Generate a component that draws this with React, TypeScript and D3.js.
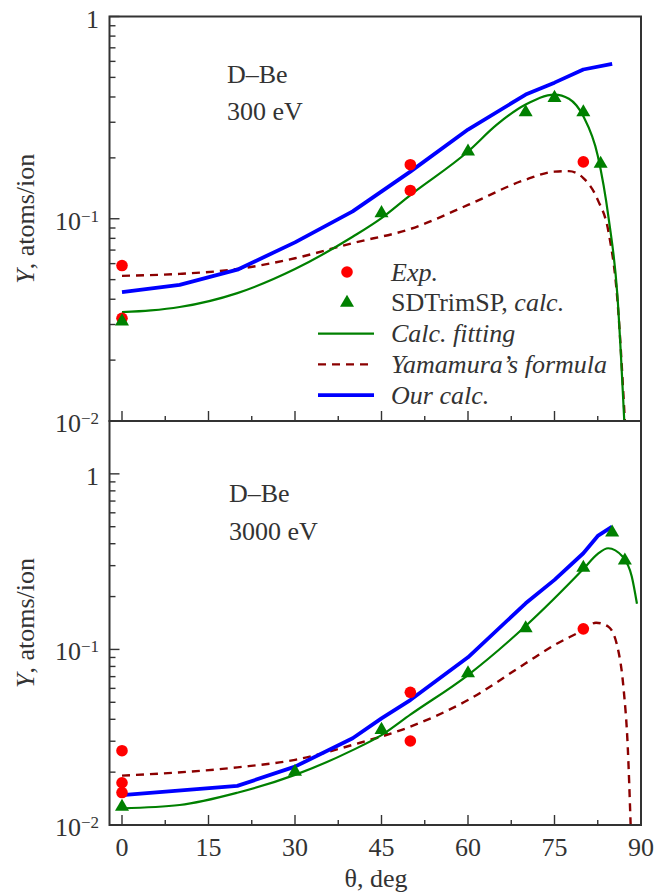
import React, { useEffect, useRef } from "react";
import * as d3 from "d3";

// ---- 300 eV (upper panel) ----
const expAngle300 = [0, 0, 50, 50, 80];
const expYield300 = [0.0587, 0.0322, 0.185, 0.138, 0.191];
const sdAngle300 = [0, 45, 60, 70, 75, 80, 83];
const sdYield300 = [0.0311, 0.1066, 0.215, 0.336, 0.396, 0.336, 0.187];
const fitAngle300 = [0, 5, 10, 20, 30, 40, 45, 50, 60, 65, 70, 75, 77.5, 80, 82.5, 84.4, 85.9, 87.1];
const fitYield300 = [0.0345, 0.0352, 0.0366, 0.0429, 0.0564, 0.0815, 0.1008, 0.131, 0.215, 0.292, 0.367, 0.411, 0.392, 0.321, 0.205, 0.1, 0.042, 0.01];
const yamAngle300 = [0, 10, 20, 30, 40, 50, 60, 70, 75, 77.5, 80, 82.5, 84.4, 85.9, 87.2];
const yamYield300 = [0.0522, 0.0534, 0.0564, 0.0638, 0.0758, 0.089, 0.117, 0.156, 0.171, 0.172, 0.159, 0.124, 0.085, 0.04, 0.01];
const ourAngle300 = [0, 10, 20, 30, 40, 50, 60, 70, 75, 80, 85];
const ourYield300 = [0.0434, 0.0471, 0.056, 0.0764, 0.1087, 0.171, 0.276, 0.411, 0.471, 0.547, 0.583];

// ---- 3000 eV (lower panel) ----
const expAngle3000 = [0, 0, 0, 50, 50, 80];
const expYield3000 = [0.0265, 0.0174, 0.0153, 0.057, 0.0301, 0.131];
const sdAngle3000 = [0, 30, 45, 60, 70, 80, 85, 87.2];
const sdYield3000 = [0.0127, 0.0201, 0.0348, 0.0731, 0.132, 0.292, 0.463, 0.321];
const fitAngle3000 = [0, 10, 20, 30, 40, 45, 50, 60, 70, 80, 82.5, 84.3, 86.8, 88.4, 89.3];
const fitYield3000 = [0.01245, 0.013, 0.01527, 0.0193, 0.0267, 0.0325, 0.0425, 0.0715, 0.136, 0.287, 0.35, 0.377, 0.338, 0.26, 0.182];
const yamAngle3000 = [0, 20, 30, 40, 50, 60, 70, 75, 80, 82.2, 84.3, 85.9, 87, 87.7, 88.2];
const yamYield3000 = [0.0191, 0.0213, 0.0235, 0.0286, 0.0363, 0.0515, 0.0834, 0.106, 0.129, 0.142, 0.135, 0.104, 0.0588, 0.028, 0.0101];
const ourAngle3000 = [0, 20, 30, 40, 45, 50, 60, 70, 75, 80, 82.5, 85];
const ourYield3000 = [0.0148, 0.0167, 0.0215, 0.0312, 0.0405, 0.0515, 0.0902, 0.183, 0.249, 0.353, 0.443, 0.501];

const xTickLabels = [0, 15, 30, 45, 60, 75, 90];
const legendLabels = ["Exp.", "SDTrimSP, calc.", "Calc. fitting", "Yamamura\u2019s formula", "Our calc."];

const FONT = "'Liberation Serif', 'Times New Roman', serif";
const INK = "#333";
const LEFT = 109.5;
const RIGHT = 641;
const TRI = 85;

const zip = (a: number[], b: number[]) => a.map((v, i) => [v, b[i]] as [number, number]);

function drawPanel(svg: any, p: any, x: any) {
  const y = d3.scaleLog().domain(p.yDomain).range(p.yRange);
  const [y0, y1] = p.yRange;
  const g = svg.append("g");

  const clipId = "clip" + p.id;
  svg.append("clipPath").attr("id", clipId)
    .append("rect").attr("x", LEFT).attr("y", y1).attr("width", RIGHT - LEFT).attr("height", y0 - y1);

  const line = d3.line<[number, number]>()
    .x(d => x(d[0])).y(d => y(d[1])).curve(d3.curveMonotoneX);
  const straight = d3.line<[number, number]>()
    .x(d => x(d[0])).y(d => y(d[1]));

  const lines = g.append("g").attr("clip-path", `url(#${clipId})`);
  lines.append("path").attr("d", line(zip(p.yamA, p.yamY)))
    .attr("fill", "none").attr("stroke", "#8b0000").attr("stroke-width", 2.4)
    .attr("stroke-dasharray", "8,6");
  lines.append("path").attr("d", line(zip(p.fitA, p.fitY)))
    .attr("fill", "none").attr("stroke", "#008000").attr("stroke-width", 2.2);
  lines.append("path").attr("d", straight(zip(p.ourA, p.ourY)))
    .attr("fill", "none").attr("stroke", "#0000ff").attr("stroke-width", 3.8)
    .attr("stroke-linejoin", "round");

  g.selectAll("circle.exp").data(zip(p.expA, p.expY)).enter().append("circle")
    .attr("cx", (d: any) => x(d[0])).attr("cy", (d: any) => y(d[1]))
    .attr("r", 5.8).attr("fill", "#ff0000");

  const tri = d3.symbol().type(d3.symbolTriangle).size(TRI);
  g.selectAll("path.sd").data(zip(p.sdA, p.sdY)).enter().append("path")
    .attr("d", tri).attr("transform", (d: any) => `translate(${x(d[0])},${y(d[1])})`)
    .attr("fill", "#008000");

  // frame
  g.append("rect").attr("x", LEFT).attr("y", y1).attr("width", RIGHT - LEFT).attr("height", y0 - y1)
    .attr("fill", "none").attr("stroke", INK).attr("stroke-width", 2);

  // x ticks (inward)
  const xt = d3.range(0, 90, 7.5);
  g.selectAll("line.xt").data(xt).enter().append("line")
    .attr("x1", (d: number) => x(d)).attr("x2", (d: number) => x(d))
    .attr("y1", y0).attr("y2", (d: number) => y0 - (d % 15 === 0 ? 10 : 5))
    .attr("stroke", INK).attr("stroke-width", 1.4);

  // y ticks (log, inward)
  const yt = y.ticks().filter((v: number) => v >= p.yDomain[0] && v <= p.yDomain[1]);
  const isDecade = (v: number) => Math.abs(Math.log10(v) - Math.round(Math.log10(v))) < 1e-6;
  g.selectAll("line.yt").data(yt).enter().append("line")
    .attr("y1", (d: number) => y(d)).attr("y2", (d: number) => y(d))
    .attr("x1", LEFT).attr("x2", (d: number) => LEFT + (isDecade(d) ? 10 : 6))
    .attr("stroke", INK).attr("stroke-width", 1.4);

  p.yLabels.forEach((v: number) => {
    const e = Math.round(Math.log10(v));
    const t = g.append("text").attr("x", 99).attr("y", y(v) + 11)
      .attr("text-anchor", "end").attr("font-family", FONT)
      .attr("font-size", 26).attr("fill", INK);
    if (e === 0) t.text("1");
    else {
      t.append("tspan").text("10");
      t.append("tspan").attr("font-size", 17).attr("dy", -8).text("\u2212" + -e);
    }
  });

  if (p.showX) {
    g.selectAll("text.xl").data(xTickLabels).enter().append("text")
      .attr("x", (d: number) => x(d)).attr("y", 856)
      .attr("text-anchor", "middle").attr("font-family", FONT)
      .attr("font-size", 26).attr("fill", INK).text((d: number) => d);
    g.append("text").attr("x", 376).attr("y", 887)
      .attr("text-anchor", "middle").attr("font-family", FONT)
      .attr("font-size", 26).attr("fill", INK).text("\u03b8, deg");
  }

  const yl = g.append("text")
    .attr("transform", `translate(34,${(y0 + y1) / 2}) rotate(-90)`)
    .attr("text-anchor", "middle").attr("font-family", FONT)
    .attr("font-size", 26).attr("fill", INK);
  yl.append("tspan").attr("font-style", "italic").text("Y");
  yl.append("tspan").text(", atoms/ion");

  p.notes.forEach((s: string, i: number) => {
    g.append("text").attr("x", p.noteX).attr("y", p.noteY + i * 37.5)
      .attr("font-family", FONT).attr("font-size", 26).attr("fill", INK).text(s);
  });
}

export default function App() {
  const ref = useRef<SVGSVGElement>(null);

  useEffect(() => {
    const svg = d3.select(ref.current);
    svg.selectAll("*").remove();
    const x = d3.scaleLinear().domain([0, 90]).range([122, RIGHT]);

    drawPanel(svg, {
      id: "top", yDomain: [0.01, 1], yRange: [421, 16.5], yLabels: [1, 0.1, 0.01], showX: false,
      expA: expAngle300, expY: expYield300, sdA: sdAngle300, sdY: sdYield300,
      fitA: fitAngle300, fitY: fitYield300, yamA: yamAngle300, yamY: yamYield300,
      ourA: ourAngle300, ourY: ourYield300,
      notes: ["D\u2013Be", "300 eV"], noteX: 227, noteY: 82.5,
    }, x);
    drawPanel(svg, {
      id: "bot", yDomain: [0.01, 2.0], yRange: [825, 421], yLabels: [1, 0.1, 0.01], showX: true,
      expA: expAngle3000, expY: expYield3000, sdA: sdAngle3000, sdY: sdYield3000,
      fitA: fitAngle3000, fitY: fitYield3000, yamA: yamAngle3000, yamY: yamYield3000,
      ourA: ourAngle3000, ourY: ourYield3000,
      notes: ["D\u2013Be", "3000 eV"], noteX: 229, noteY: 502,
    }, x);

    // legend
    const lg = svg.append("g");
    const rowY = (i: number) => 272 + i * 30.8;
    lg.append("circle").attr("cx", 347).attr("cy", rowY(0)).attr("r", 5.8).attr("fill", "#ff0000");
    lg.append("path").attr("d", d3.symbol().type(d3.symbolTriangle).size(TRI)())
      .attr("transform", `translate(347,${rowY(1)})`).attr("fill", "#008000");
    lg.append("line").attr("x1", 318).attr("x2", 374).attr("y1", rowY(2)).attr("y2", rowY(2))
      .attr("stroke", "#008000").attr("stroke-width", 2.2);
    lg.append("line").attr("x1", 318).attr("x2", 374).attr("y1", rowY(3)).attr("y2", rowY(3))
      .attr("stroke", "#8b0000").attr("stroke-width", 2.4).attr("stroke-dasharray", "8,6");
    lg.append("line").attr("x1", 318).attr("x2", 374).attr("y1", rowY(4)).attr("y2", rowY(4))
      .attr("stroke", "#0000ff").attr("stroke-width", 3.8);

    legendLabels.forEach((s, i) => {
      const t = lg.append("text").attr("x", 391).attr("y", rowY(i) + 8.5).attr("font-family", FONT)
        .attr("font-size", 26).attr("fill", INK);
      if (s.startsWith("SDTrimSP")) {
        t.append("tspan").text("SDTrimSP, ");
        t.append("tspan").attr("font-style", "italic").text("calc.");
      } else {
        t.attr("font-style", "italic").text(s);
      }
    });
  }, []);

  return (
    <svg ref={ref} width={666} height={895}
      style={{ position: "absolute", left: 0, top: 0, background: "#fff" }} />
  );
}
